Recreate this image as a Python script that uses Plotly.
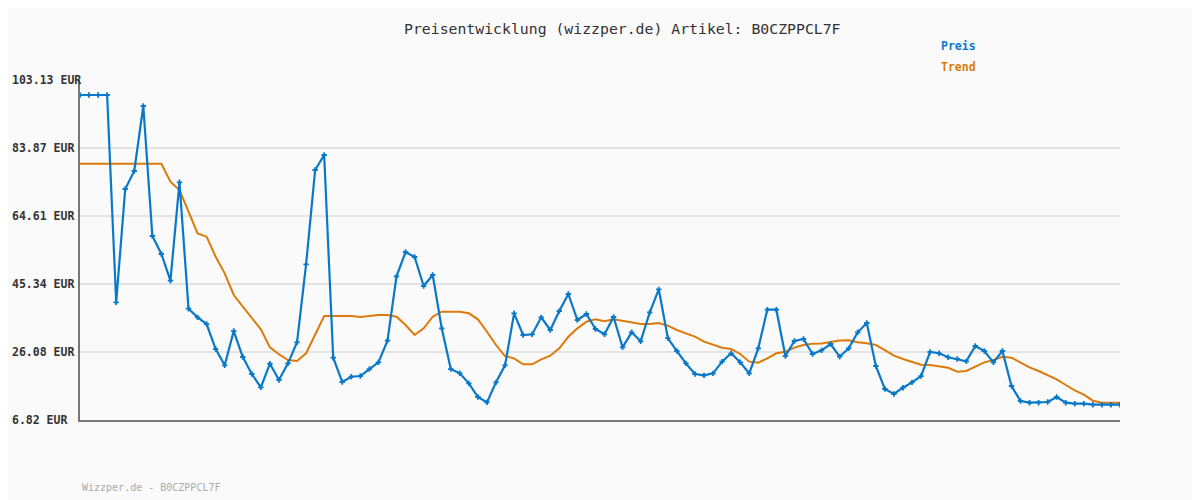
import plotly.graph_objects as go

preis = [98.88, 98.88, 98.88, 98.88, 40.16, 72.25, 77.35, 95.76, 58.94, 53.84,
         46.28, 74.15, 38.35, 35.90, 34.00, 26.92, 22.31, 32.02, 24.66, 19.85,
         16.07, 22.76, 18.15, 22.86, 28.83, 50.92, 77.63, 81.88, 24.47, 17.58,
         19.07, 19.27, 21.25, 23.16, 29.30, 47.50, 54.41, 52.99, 44.77, 47.89,
         32.79, 21.25, 20.04, 17.20, 13.33, 11.82, 17.49, 22.31, 37.04, 30.90,
         31.09, 35.90, 32.31, 37.69, 42.51, 35.15, 36.85, 32.60, 31.09, 35.99,
         27.40, 31.66, 29.11, 37.31, 43.83, 30.04, 26.36, 22.86, 19.85, 19.47,
         20.04, 23.35, 25.72, 23.16, 20.04, 27.12, 38.07, 38.07, 24.94, 29.20,
         29.76, 25.52, 26.55, 28.35, 24.75, 27.12, 31.66, 34.29, 22.12, 15.60,
         14.18, 15.97, 17.49, 19.27, 26.08, 25.72, 24.58, 24.10, 23.44, 27.78,
         26.36, 23.16, 26.36, 16.45, 12.20, 11.72, 11.72, 11.91, 13.33, 11.72,
         11.44, 11.44, 11.15, 11.15, 11.15, 11.15]

trend = [79.42, 79.42, 79.42, 79.42, 79.42, 79.42, 79.42, 79.42, 79.42, 79.42,
         74.32, 71.97, 65.83, 59.69, 58.75, 53.08, 48.37, 42.23, 38.92, 35.62,
         32.50, 27.40, 25.43, 23.82, 23.53, 25.72, 30.90, 36.28, 36.28, 36.28,
         36.28, 36.00, 36.28, 36.56, 36.56, 36.09, 33.72, 30.90, 32.79, 36.09,
         37.50, 37.50, 37.50, 37.04, 35.34, 31.83, 28.06, 24.94, 24.28, 22.59,
         22.59, 24.00, 25.04, 27.12, 30.40, 32.79, 34.66, 35.34, 34.78, 35.34,
         34.94, 34.38, 34.00, 34.00, 34.29, 33.53, 32.31, 31.37, 30.43, 29.00,
         28.06, 27.31, 26.92, 25.52, 23.35, 23.06, 24.28, 25.72, 26.17, 27.31,
         28.06, 28.43, 28.50, 28.90, 29.35, 29.39, 28.83, 28.54, 28.06, 26.64,
         25.04, 24.10, 23.25, 22.49, 22.40, 22.12, 21.63, 20.50, 20.70, 21.93,
         23.16, 23.82, 24.75, 24.47, 23.06, 21.74, 20.70, 19.47, 18.34, 16.73,
         15.22, 13.98, 12.29, 11.72, 11.72, 11.72]

tick_vals = [6.82, 26.08, 45.34, 64.61, 83.87, 103.13]
tick_text = ["6.82 EUR", "26.08 EUR", "45.34 EUR", "64.61 EUR", "83.87 EUR", "103.13 EUR"]

title_text = "Preisentwicklung (wizzper.de) Artikel: B0CZPPCL7F"
footer_text = "Wizzper.de - B0CZPPCL7F"

MONO = "DejaVu Sans Mono"
BLUE = "#0a78c8"
ORANGE = "#dd7a0a"

x = list(range(len(preis)))

fig = go.Figure()
fig.add_trace(go.Scatter(x=x, y=trend, mode="lines", name="Trend",
                         line=dict(color=ORANGE, width=2), hoverinfo="skip"))
fig.add_trace(go.Scatter(x=x, y=preis, mode="lines+markers", name="Preis",
                         line=dict(color=BLUE, width=2.2),
                         marker=dict(symbol="cross", size=4.5, color=BLUE)))

annotations = []
for v, t in zip(tick_vals, tick_text):
    annotations.append(dict(x=-70/1040, y=v, xref="paper", yref="y", text="<b>%s</b>" % t,
                            showarrow=False, xanchor="left", yanchor="middle",
                            font=dict(family=MONO, size=11.5, color="#333333")))
annotations.append(dict(x=0.522, y=(420-28)/340, xref="paper", yref="paper", text=title_text,
                        showarrow=False, xanchor="center", yanchor="middle",
                        font=dict(family=MONO, size=14.8, color="#333333")))
annotations.append(dict(x=(939-80)/1040, y=(420-46)/340, xref="paper", yref="paper",
                        text="<b>Preis</b>", showarrow=False, xanchor="left", yanchor="middle",
                        font=dict(family=MONO, size=11.5, color=BLUE)))
annotations.append(dict(x=(939-80)/1040, y=(420-67)/340, xref="paper", yref="paper",
                        text="<b>Trend</b>", showarrow=False, xanchor="left", yanchor="middle",
                        font=dict(family=MONO, size=11.5, color=ORANGE)))
annotations.append(dict(x=0, y=(420-487)/340, xref="paper", yref="paper",
                        text=footer_text, showarrow=False, xanchor="left", yanchor="middle",
                        font=dict(family=MONO, size=10, color="#aaaaaa")))

fig.update_layout(
    width=1192, height=492,
    margin=dict(l=72, r=80, t=72, b=80),
    paper_bgcolor="#fafafa", plot_bgcolor="#fafafa",
    showlegend=False,
    annotations=annotations,
    xaxis=dict(range=[0, len(preis) - 1], showgrid=False, zeroline=False,
               showticklabels=False, showline=True, linecolor="#777777", linewidth=2,
               ticks=""),
    yaxis=dict(range=[6.82, 103.13], tickvals=tick_vals, showticklabels=False,
               showgrid=True, gridcolor="#e4e4e4", gridwidth=2, zeroline=False,
               showline=True, linecolor="#777777", linewidth=2, ticks=""),
)

fig.write_html("out.html")
